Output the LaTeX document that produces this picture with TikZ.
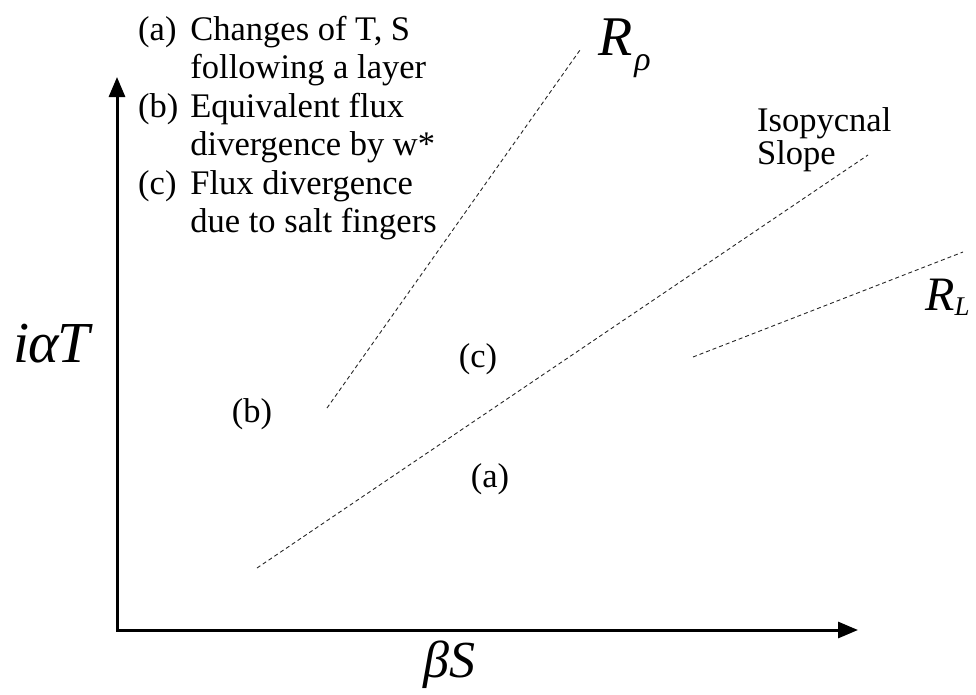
\documentclass[tikz,border=0pt]{standalone}
\usepackage{fontspec}
\setmainfont{Liberation Serif}
\usetikzlibrary{arrows.meta}
\begin{document}
\begin{tikzpicture}[x=1pt,y=-1pt,
  axis/.style={line width=3pt, line join=miter, {Triangle[length=20pt,width=16pt]}-{Triangle[length=20pt,width=16pt]}},
  guide/.style={line width=0.9pt, dash pattern=on 4pt off 3pt, black!85},
  lbl/.style={font=\fontsize{34.5}{38.5}\selectfont, inner sep=0pt},
  bigmath/.style={inner sep=0pt, anchor=base west}]
\useasboundingbox (0,0) rectangle (976,694);
% axes
\coordinate (ytip) at (117,77);
\coordinate (O) at (117,630);
\coordinate (xtip) at (858,630);
\draw[axis] (ytip) |- (xtip);
% guide lines
\coordinate (rr1) at (327,408);
\coordinate (rr2) at (580,50);
\coordinate (is1) at (257,568);
\coordinate (is2) at (868,155);
\coordinate (rl1) at (693,357);
\coordinate (rl2) at (963,252);
\draw[guide] (rr1) -- (rr2);
\draw[guide] (is1) -- (is2);
\draw[guide] (rl1) -- (rl2);
% legend
\node[lbl, anchor=base west] (legend) at (138,40) {\begin{tabular}[t]{@{}l@{\hspace{12pt}}l@{}}
(a) & Changes of T, S\\
    & following a layer\\
(b) & Equivalent flux\\
    & divergence by w*\\
(c) & Flux divergence\\
    & due to salt fingers
\end{tabular}};
\node[lbl, anchor=base west] (iso1) at (757,131) {Isopycnal};
\node[lbl, anchor=base west] (iso2) at (757,164) {Slope};
% region labels
\node[lbl] (lc) at (478,359) {(c)};
\node[lbl] (lb) at (252,414) {(b)};
\node[lbl] (la) at (490,479) {(a)};
% axis and line labels
\node[bigmath] (ylab) at (13,362) {\fontsize{58}{58}\selectfont\itshape i\kern-1ptα\kern-1ptT};
\node[bigmath] (xlab) at (423,677) {\fontsize{52}{52}\selectfont\itshape βS};
\node[bigmath] (rrho) at (598,55) {\fontsize{56}{56}\selectfont\itshape R\kern2pt\raisebox{-15pt}{\fontsize{34}{34}\selectfont ρ}};
\node[bigmath] (rlab) at (925,310) {\fontsize{48}{48}\selectfont\itshape R\raisebox{-5pt}{\fontsize{27}{27}\selectfont L}};
\end{tikzpicture}
\end{document}
